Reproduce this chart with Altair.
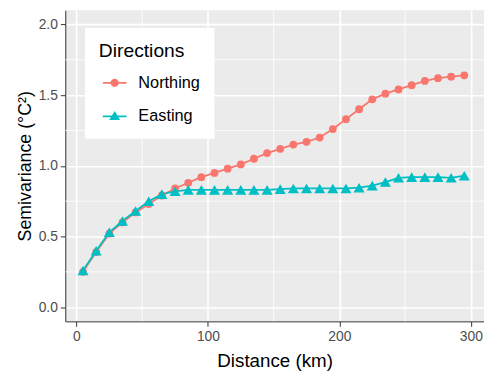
import altair as alt
import pandas as pd

# ---- data ----
distance = [5, 15, 25, 35, 45, 55, 65, 75, 85, 95,
            105, 115, 125, 135, 145, 155, 165, 175, 185, 195,
            205, 215, 225, 235, 245, 255, 265, 275, 285, 295]
northing = [0.25, 0.39, 0.52, 0.60, 0.67, 0.73, 0.79, 0.84, 0.88, 0.92,
            0.95, 0.98, 1.01, 1.05, 1.09, 1.12, 1.15, 1.17, 1.20, 1.26,
            1.33, 1.40, 1.47, 1.51, 1.54, 1.57, 1.60, 1.62, 1.63, 1.64]
easting = [0.26, 0.40, 0.53, 0.61, 0.68, 0.75, 0.80, 0.82, 0.83, 0.83,
           0.83, 0.83, 0.83, 0.83, 0.83, 0.835, 0.84, 0.84, 0.84, 0.84,
           0.84, 0.845, 0.86, 0.885, 0.915, 0.92, 0.92, 0.92, 0.915, 0.93]
directions = ["Northing", "Easting"]
colors = ["#F8766D", "#00BFC4"]
x_ticks = [0, 100, 200, 300]
y_ticks = [0.0, 0.5, 1.0, 1.5, 2.0]
x_minor = [50, 150, 250]
y_minor = [0.25, 0.75, 1.25, 1.75]

df = pd.DataFrame({
    "Distance": distance * 2,
    "Semivariance": northing + easting,
    "Direction": ["Northing"] * len(distance) + ["Easting"] * len(distance),
})
df_xminor = pd.DataFrame({"v": x_minor})
df_yminor = pd.DataFrame({"v": y_minor})

# legend symbols: a line with the marker on it (ggplot style keys)
legend_shapes = [
    "M-1,-0.075L1,-0.075L1,0.075L-1,0.075Z M0.35,0A0.35,0.35 0 1,1 -0.35,0A0.35,0.35 0 1,1 0.35,0Z",
    "M-1,-0.075L1,-0.075L1,0.075L-1,0.075Z M0,-0.45L0.46,0.3L-0.46,0.3Z",
]

x_scale = alt.Scale(domain=[-8.5, 310], nice=False, zero=False)
y_scale = alt.Scale(domain=[-0.1, 2.1], nice=False, zero=False)
color_scale = alt.Scale(domain=directions, range=colors)

x_enc = alt.X("Distance:Q", scale=x_scale, title="Distance (km)",
              axis=alt.Axis(values=x_ticks, format="d"))
y_enc = alt.Y("Semivariance:Q", scale=y_scale, title="Semivariance (°C²)",
              axis=alt.Axis(values=y_ticks, format=".1f"))
color_enc = alt.Color("Direction:N", scale=color_scale)

base = alt.Chart(df)

# legend layer first so its (enabled) legend definition wins the merge
legend_layer = base.transform_filter("false").mark_point(filled=True, opacity=1).encode(
    color=alt.Color("Direction:N", scale=color_scale, title="Directions",
                    legend=alt.Legend(orient="none", legendX=20, legendY=18)),
    shape=alt.Shape("Direction:N", scale=alt.Scale(domain=directions, range=legend_shapes),
                    title="Directions"),
)

minor_x = alt.Chart(df_xminor).mark_rule(color="white", strokeWidth=0.8).encode(
    x=alt.X("v:Q", scale=x_scale))
minor_y = alt.Chart(df_yminor).mark_rule(color="white", strokeWidth=0.8).encode(
    y=alt.Y("v:Q", scale=y_scale))

lines = base.mark_line(strokeWidth=1.8).encode(
    x=x_enc, y=y_enc, color=color_enc, detail="Direction:N")

circles = base.transform_filter(alt.datum.Direction == "Northing").mark_point(
    shape="circle", filled=True, size=62, opacity=1).encode(
    x=x_enc, y=y_enc, color=color_enc)

triangles = base.transform_filter(alt.datum.Direction == "Easting").mark_point(
    shape="triangle-up", filled=True, size=125, opacity=1).encode(
    x=x_enc, y=y_enc, color=color_enc)

chart = alt.layer(legend_layer, minor_x, minor_y, lines, circles, triangles).properties(
    width=424,
    height=315,
    autosize=alt.AutoSizeParams(type="none"),
    padding={"left": 58, "top": 0, "right": 0, "bottom": 51},
    view=alt.ViewBackground(fill="#EBEBEB", stroke=None),
).configure(
    font="Liberation Sans",
).configure_view(
    fill="#EBEBEB", stroke=None,
).configure_axis(
    grid=True, gridColor="white", gridWidth=1.6,
    domain=True, domainColor="#333333", domainWidth=1,
    tickColor="#333333", tickSize=5, tickWidth=1,
    labelColor="#4D4D4D", labelFontSize=14, labelPadding=3,
    titleColor="black", titleFontWeight="normal",
).configure_axisX(
    titleFontSize=19, titlePadding=9,
).configure_axisY(
    titleFontSize=18, titlePadding=4,
).configure_legend(
    fillColor="white", strokeColor=None, padding=14,
    titleFontSize=19.5, titleFontWeight="normal", titleColor="black", titlePadding=10,
    labelFontSize=16.5, labelColor="black", labelOffset=12, symbolOffset=4,
    symbolSize=576, symbolStrokeWidth=0, rowPadding=13,
)

chart.save("out.html", embed_options={"renderer": "svg", "actions": False})
